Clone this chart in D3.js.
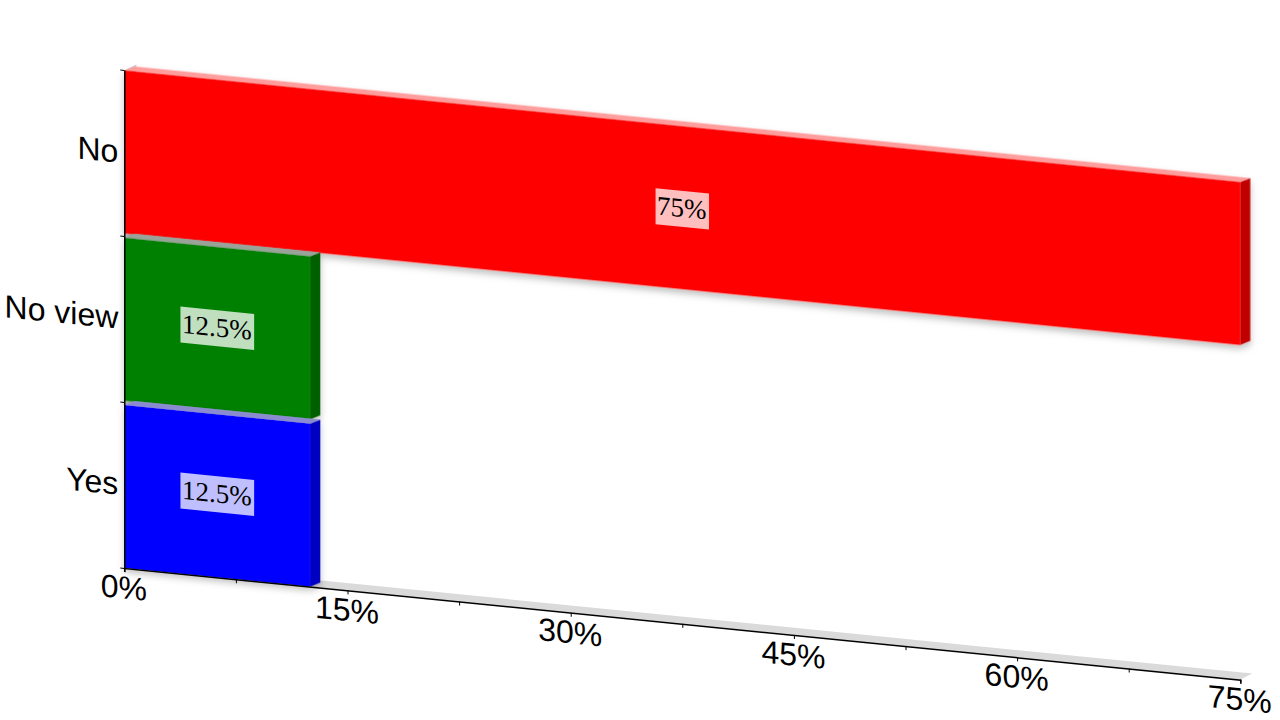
<!DOCTYPE html>
<html>
<head>
<meta charset="utf-8">
<script src="https://cdn.jsdelivr.net/npm/d3@7"></script>
<style>
  html, body { margin: 0; padding: 0; background: #fff; }
  svg { display: block; }
  text { font-family: "Liberation Sans", Arial, sans-serif; }
</style>
</head>
<body>
<svg id="chart" width="1280" height="720"></svg>
<script>
const categories = ['No', 'No view', 'Yes'];
const values = [75, 12.5, 12.5];
const valueLabels = ['75%', '12.5%', '12.5%'];
const xTicks = [0, 15, 30, 45, 60, 75];
const xMinorTicks = [7.5, 22.5, 37.5, 52.5, 67.5];
const frontColors = ['#ff0000', '#008000', '#0000ff'];
const topColors = ['#ff9c9c', '#9aa39a', '#8b8bd0'];
const sideColors = ['#c00000', '#006000', '#0000c0'];

const width = 1280;
const height = 720;
const plotW = 1116;
const plotH = 497.6;
const slope = 0.1;

// bars depth, in local (sheared) units
const depth = { x: 10, y: -5 };
const wallDepth = { x: 12, y: -7.2 };

const svg = d3.select('#chart').attr('viewBox', `0 0 ${width} ${height}`);

const defs = svg.append('defs');
const shadow = defs.append('filter')
    .attr('id', 'barShadow')
    .attr('x', '-5%').attr('y', '-5%')
    .attr('width', '110%').attr('height', '115%');
shadow.append('feDropShadow')
    .attr('dx', 0).attr('dy', 4)
    .attr('stdDeviation', 3.5)
    .attr('flood-color', '#000')
    .attr('flood-opacity', 0.25);

// whole chart is sheared
const g = svg.append('g')
    .attr('transform', `matrix(1,${slope},0,1,124.3,568)`);

const x = d3.scaleLinear().domain([0, 75]).range([0, plotW]);
const y = d3.scaleBand().domain(categories).range([-plotH, 0]).paddingInner(0.026);
// whole category slots, for tick marks and text
const ySlot = d3.scaleBand().domain(categories).range([-498, 0]);
const yEdge = d3.scaleLinear().domain([0, categories.length]).range([0, -498]);

// floor and wall
g.append('polygon')
    .attr('points', [[0, 0], [plotW, 0], [plotW + wallDepth.x, wallDepth.y], [wallDepth.x, wallDepth.y]].join(' '))
    .attr('fill', '#dadada');
g.append('polygon')
    .attr('points', [[0, 0], [wallDepth.x, wallDepth.y], [wallDepth.x, -plotH + wallDepth.y], [0, -plotH]].join(' '))
    .attr('fill', '#cfcfcf');

// bars, top one first so that lower ones overlap it
const bars = g.selectAll('.bar')
    .data(categories)
    .enter()
    .append('g')
    .attr('class', 'bar')
    .attr('filter', 'url(#barShadow)');

bars.append('polygon')
    .attr('fill', (d, i) => topColors[i])
    .attr('points', (d, i) => {
        const x1 = x(values[i]);
        const y0 = y(d);
        return [[0, y0], [x1, y0], [x1 + depth.x, y0 + depth.y], [depth.x, y0 + depth.y]].join(' ');
    });

bars.append('polygon')
    .attr('fill', (d, i) => sideColors[i])
    .attr('points', (d, i) => {
        const x1 = x(values[i]);
        const y0 = y(d);
        const y1 = y0 + y.bandwidth();
        return [[x1, y0], [x1 + depth.x, y0 + depth.y], [x1 + depth.x, y1 + depth.y], [x1, y1]].join(' ');
    });

bars.append('rect')
    .attr('x', 0)
    .attr('y', d => y(d))
    .attr('width', (d, i) => x(values[i]))
    .attr('height', y.bandwidth())
    .attr('fill', (d, i) => frontColors[i]);

// value labels
const labels = g.selectAll('.value-label')
    .data(categories)
    .enter()
    .append('g')
    .attr('class', 'value-label')
    .attr('transform', (d, i) => `translate(${x(values[i]) / 2},${ySlot(d) + ySlot.bandwidth() / 2})`);

labels.append('rect')
    .attr('fill', '#fff')
    .attr('fill-opacity', 0.75);

const labelText = labels.append('text')
    .attr('text-anchor', 'middle')
    .attr('dx', -0.5)
    .attr('dy', '0.3em')
    .style('font-family', '"Liberation Serif", serif')
    .style('font-size', '27px')
    .attr('fill', '#000')
    .text((d, i) => valueLabels[i]);

labelText.each(function (d, i) {
    const w = this.getComputedTextLength() + 4;
    d3.select(labels.nodes()[i]).select('rect')
        .attr('x', -w / 2).attr('y', -18)
        .attr('width', w).attr('height', 36);
});

// axes
const xAxis = g.append('g')
    .call(d3.axisBottom(x).tickValues(xTicks).tickSize(4).tickPadding(4).tickFormat(d => d + '%'));
xAxis.selectAll('text').attr('dx', -1);
const xMinor = g.append('g')
    .call(d3.axisBottom(x).tickValues(xMinorTicks).tickSize(4).tickFormat(''));
xMinor.select('.domain').remove();

const yAxis = g.append('g')
    .call(d3.axisLeft(ySlot).tickSize(0).tickPadding(5));
yAxis.selectAll('text').attr('dx', -1);
const yTickMarks = g.append('g')
    .call(d3.axisLeft(yEdge).ticks(3).tickSize(4).tickFormat(''));
yTickMarks.select('.domain').remove();

[xAxis, yAxis].forEach(a => {
    a.selectAll('text')
        .style('font-family', '"Liberation Sans", Arial, sans-serif')
        .style('font-size', '32px')
        .attr('fill', '#000');
    a.select('.domain').attr('stroke', '#000').attr('stroke-width', 1.5);
});
</script>
</body>
</html>
